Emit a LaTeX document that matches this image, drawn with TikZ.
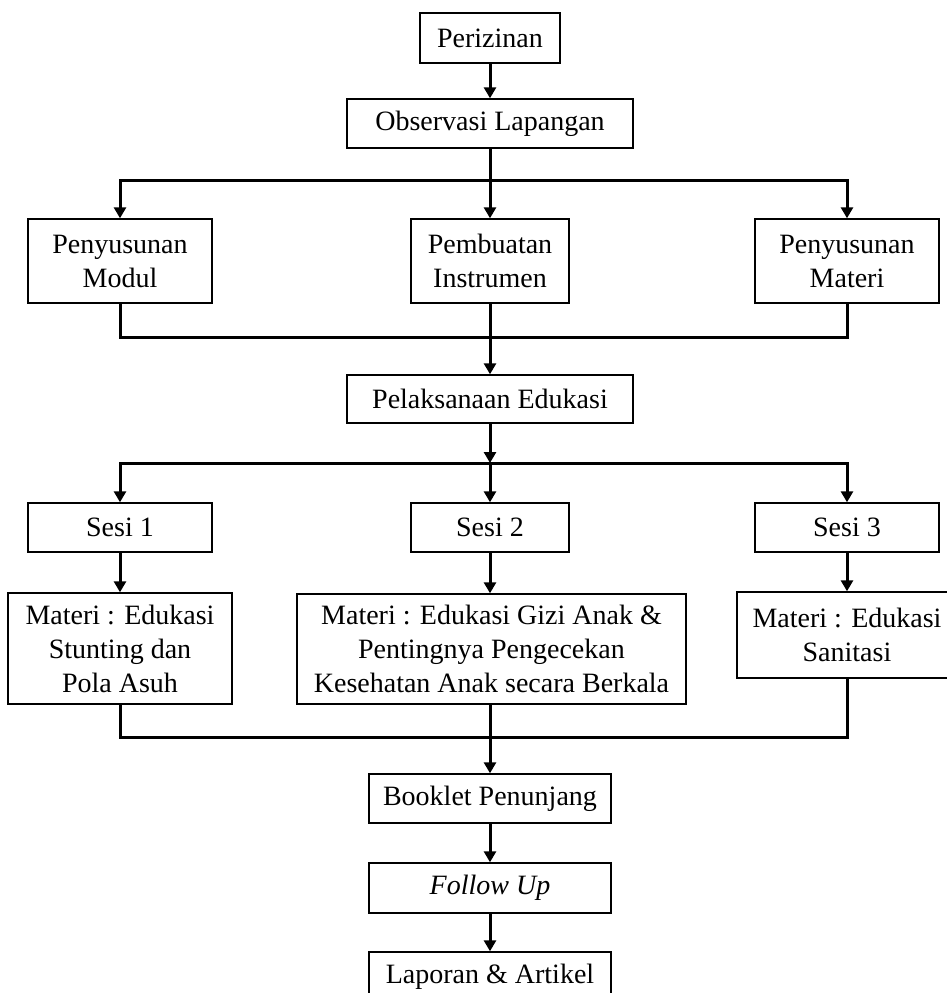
\documentclass[tikz,border=0pt]{standalone}
\usepackage{fontspec}
\setmainfont{Liberation Serif}
\usetikzlibrary{arrows.meta}
\begin{document}
\begin{tikzpicture}[x=1pt,y=-1pt,
  box/.style={draw,line width=1.4pt,inner sep=0pt,align=center,
    font=\fontsize{28}{34}\selectfont},
  conn/.style={line width=3pt},
  arr/.style={conn,-{Triangle[length=11pt,width=12pt]}}]
\useasboundingbox (0,0) rectangle (947,993);
\node[box,minimum width=140pt,minimum height=50pt] (per) at (490,38) {Perizinan};
\node[box,minimum width=286pt,minimum height=49pt] (obs) at (490,123.5) {Observasi Lapangan};
\node[box,minimum width=184pt,minimum height=84pt] (mod) at (120,261) {Penyusunan\\Modul};
\node[box,minimum width=158pt,minimum height=84pt] (ins) at (490,261) {Pembuatan\\Instrumen};
\node[box,minimum width=184pt,minimum height=84pt] (mat) at (847,261) {Penyusunan\\Materi};
\node[box,minimum width=286pt,minimum height=48pt] (pel) at (490,399) {Pelaksanaan Edukasi};
\node[box,minimum width=184pt,minimum height=49pt] (s1) at (120,527.5) {Sesi 1};
\node[box,minimum width=158pt,minimum height=49pt] (s2) at (490,527.5) {Sesi 2};
\node[box,minimum width=184pt,minimum height=49pt] (s3) at (847,527.5) {Sesi 3};
\node[box,minimum width=224pt,minimum height=111pt] (m1) at (120,648.5) {Materi : Edukasi\\Stunting dan\\Pola Asuh};
\node[box,minimum width=389pt,minimum height=110pt] (m2) at (491.5,649) {Materi : Edukasi Gizi Anak \&\\Pentingnya Pengecekan\\Kesehatan Anak secara Berkala};
\node[box,minimum width=220pt,minimum height=86pt] (m3) at (847,635) {Materi : Edukasi\\Sanitasi};
\node[box,minimum width=242pt,minimum height=49pt] (book) at (490,798.5) {Booklet Penunjang};
\node[box,minimum width=242pt,minimum height=50pt] (fu) at (490,888) {\itshape Follow Up};
\node[box,minimum width=242pt,minimum height=50pt] (lap) at (490,977) {Laporan \& Artikel};
\coordinate (j1) at (490,180);
\coordinate (k1) at (490,337);
\coordinate (j2) at (490,463);
\coordinate (k2) at (490,737);
% first section
\draw[arr] (per) -- (obs);
\draw[conn] (obs.south) -- (j1);
\draw[arr] (j1) -| (mod.north);
\draw[arr] (j1) -| (mat.north);
\draw[arr] (j1) -- (ins.north);
\draw[conn] (mod.south) |- (k1) -| (mat.south);
\draw[arr] (ins.south) -- (pel.north);
% second section
\draw[arr] (pel.south) -- (j2);
\draw[arr] (j2) -| (s1.north);
\draw[arr] (j2) -| (s3.north);
\draw[arr] (j2) -- (s2.north);
\draw[arr] (s1.south) -- (m1.north);
\draw[arr] (s2.south) -- (s2.south |- m2.north);
\draw[arr] (s3.south) -- (m3.north);
\draw[conn] (m1.south) |- (k2) -| (m3.south);
\draw[arr] (s2.south |- m2.south) -- (book.north);
\draw[arr] (book) -- (fu);
\draw[arr] (fu) -- (lap);
\end{tikzpicture}
\end{document}
